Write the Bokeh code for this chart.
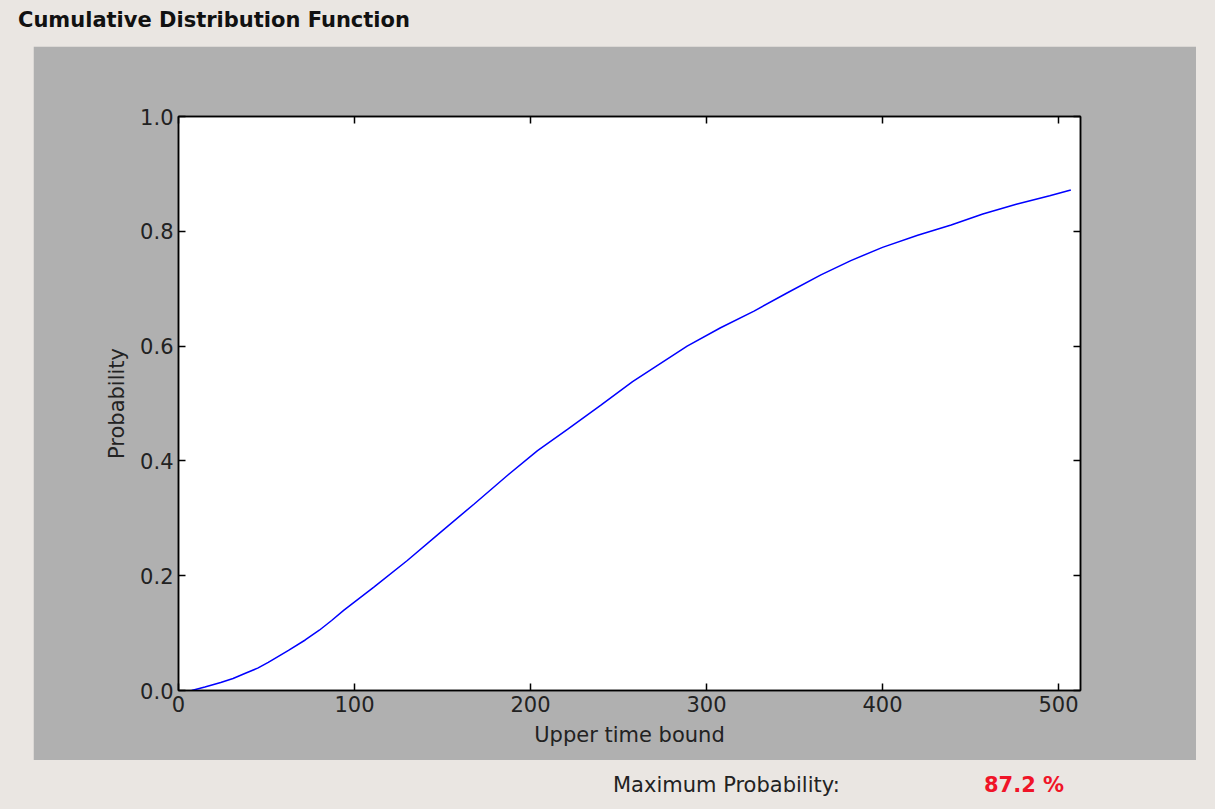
from bokeh.plotting import figure
from bokeh.models import (Div, Spacer, LinearAxis, FixedTicker, Range1d,
                          PrintfTickFormatter, GlobalInlineStyleSheet)
from bokeh.layouts import column, row
from bokeh.embed import file_html
from bokeh.resources import INLINE

# ---- data ----
time_bound = [7.5, 15, 24, 31, 38, 45, 51, 57, 62.5, 72, 80, 87, 94, 111, 130, 149,
              168, 187, 204, 221, 240, 258, 270, 289, 308, 327, 346, 365, 382,
              400, 420, 439, 457, 476, 495, 507]
probability = [0.0, 0.006, 0.014, 0.021, 0.030, 0.039, 0.049, 0.060, 0.070, 0.088,
               0.105, 0.122, 0.140, 0.180, 0.2265, 0.276, 0.325, 0.375, 0.418, 0.455,
               0.497, 0.538, 0.562, 0.600, 0.632, 0.661, 0.693, 0.724, 0.749,
               0.772, 0.793, 0.811, 0.830, 0.847, 0.862, 0.872]
x_ticks = [0, 100, 200, 300, 400, 500]
y_ticks = [0.0, 0.2, 0.4, 0.6, 0.8, 1.0]
title_text = "Cumulative Distribution Function"
x_label = "Upper time bound"
y_label = "Probability"
max_label = "Maximum Probability:"
max_value = "87.2 %"

BG = "#EAE6E2"
PANEL = "#B0B0B0"
FONT = "DejaVu Sans"
FS = "21px"

p = figure(width=1163, height=714, output_backend="svg", toolbar_location=None,
           x_range=Range1d(0, 512.5), y_range=Range1d(0, 1.0),
           min_border_left=145, min_border_right=116, min_border_top=70,
           min_border_bottom=70)
p.border_fill_color = PANEL
p.background_fill_color = "white"
p.outline_line_color = "black"
p.outline_line_width = 1.5
p.grid.visible = False

p.line(time_bound, probability, line_color="#0000FF", line_width=1.5)

def style_axis(ax, ticks, show_labels):
    ax.ticker = FixedTicker(ticks=ticks)
    ax.major_tick_in = 7
    ax.major_tick_out = 0
    ax.minor_tick_line_color = None
    ax.major_tick_line_color = "black"
    ax.major_tick_line_width = 1.5
    ax.axis_line_color = "black"
    ax.axis_line_width = 1.5
    ax.major_label_text_font = FONT
    ax.major_label_text_font_size = FS
    ax.major_label_text_color = "#222222" if show_labels else None
    ax.axis_label_text_font = FONT
    ax.axis_label_text_font_size = FS
    ax.axis_label_text_font_style = "normal"
    ax.axis_label_text_color = "#222222"

xa = p.xaxis[0]
style_axis(xa, x_ticks, True)
xa.axis_label = x_label
xa.major_label_standoff = 5
xa.axis_label_standoff = 8

ya = p.yaxis[0]
style_axis(ya, y_ticks, True)
ya.formatter = PrintfTickFormatter(format="%.1f")
ya.axis_label = y_label
ya.major_label_standoff = 5
ya.axis_label_standoff = 8

top_ax = LinearAxis()
style_axis(top_ax, x_ticks, False)
top_ax.major_label_text_font_size = "0px"
p.add_layout(top_ax, "above")
right_ax = LinearAxis()
style_axis(right_ax, y_ticks, False)
right_ax.major_label_text_font_size = "0px"
p.add_layout(right_ax, "right")

sheet = GlobalInlineStyleSheet(css="body { background-color: %s; }" % BG)

title_div = Div(text=title_text, width=1215, height=36, stylesheets=[sheet],
                styles={"font-family": FONT, "font-size": FS, "font-weight": "bold",
                        "color": "#111111", "padding-left": "13px",
                        "padding-top": "3px", "line-height": "24px"})

bottom_div = Div(
    text=('<div style="position:relative;width:1215px;height:41px;">'
          '<span style="position:absolute;left:608px;top:8px;font-family:DejaVu Sans;'
          'font-size:21px;color:#222222;line-height:24px;">%s</span>'
          '<span style="position:absolute;left:979px;top:8px;font-family:DejaVu Sans;'
          'font-size:21px;font-weight:bold;color:#F01428;line-height:24px;">%s</span>'
          '</div>') % (max_label, max_value),
    width=1215, height=41)

layout = column(
    title_div,
    row(Spacer(width=33, height=714), p, Spacer(width=19, height=714)),
    bottom_div,
    styles={"background-color": BG}, spacing=0)

open("out.html", "w").write(file_html(layout, INLINE))
